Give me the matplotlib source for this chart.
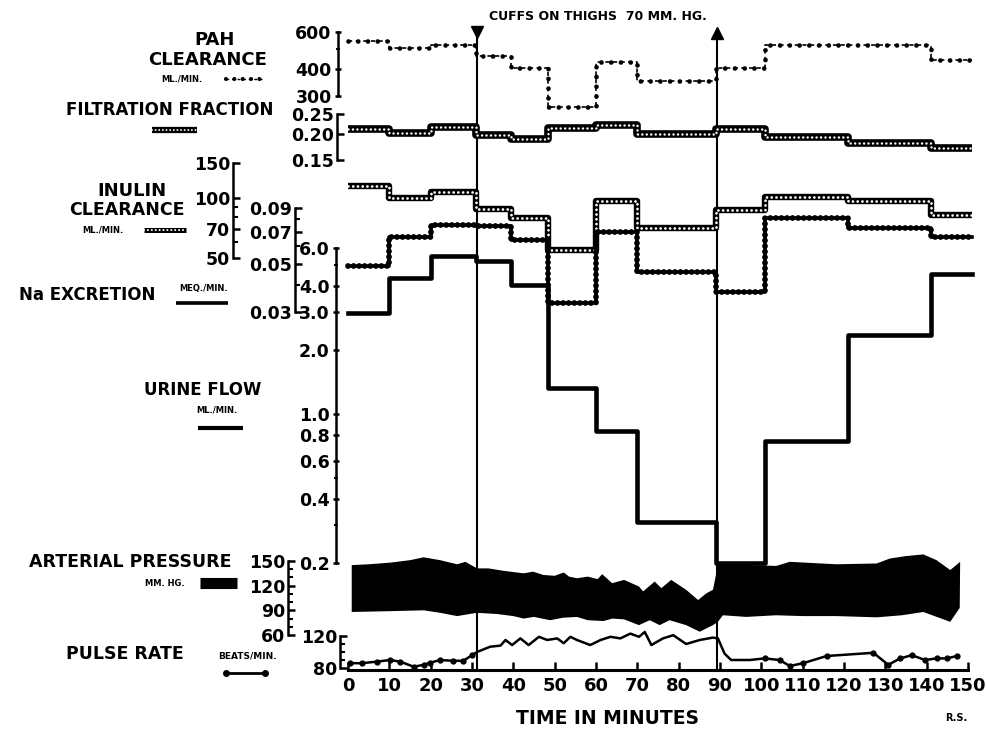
import matplotlib
matplotlib.use('Agg')
import matplotlib.pyplot as plt
from matplotlib.ticker import NullFormatter

plt.rcParams['font.family'] = ['DejaVu Sans']
plt.rcParams['font.weight'] = 'bold'
plt.rcParams['lines.scale_dashes'] = False

# collection periods, minutes
edges = [0, 10, 20, 31, 39.5, 48.5, 60, 70, 89, 101, 121, 141, 151]
pah = [545, 502, 520, 462, 407, 267, 434, 353, 405, 520, 520, 442]
ff = [0.211, 0.203, 0.217, 0.198, 0.190, 0.213, 0.221, 0.201, 0.211, 0.193, 0.181, 0.172]
inulin = [115, 100, 107, 88, 79, 55, 97, 71, 87, 101, 97, 82]
na = [0.049, 0.066, 0.075, 0.0745, 0.064, 0.033, 0.070, 0.046, 0.037, 0.081, 0.073, 0.066]
urine = [2.97, 4.35, 5.5, 5.23, 4.02, 1.32, 0.835, 0.31, 0.20, 0.75, 2.35, 4.53]

# arterial pressure band edges
sys_t = [0.9, 5, 10.2, 15, 18.3, 22.3, 26.4, 28.4, 31.2, 34, 37.7, 42.5, 44.8, 47.3, 50, 52.2,
         53.5, 55.4, 58, 60.4, 61.5, 63.9, 66.8, 70.4, 71.4, 74.2, 75.8, 78.2, 81.8, 84.7, 86.7,
         88.3, 89.5, 94, 98, 103.6, 106.9, 118.2, 127.9, 131.1, 135, 139.2, 142.4, 145.7, 148.1]
sys_p = [145, 146, 148, 151, 154.5, 151, 146, 149, 141, 141, 138, 135, 137, 133, 132, 136,
         131, 129, 131, 128, 134, 123, 127, 119, 113, 125, 117, 127, 115, 102.5, 110.7,
         115, 145, 147, 145, 144, 149, 146, 147, 153, 156, 158, 151, 139, 149]
dia_t = [0.9, 10.2, 18.3, 22.3, 26.4, 31.2, 36.1, 40, 42.5, 45, 48.9, 52, 55.4, 58, 61.8, 64,
         66.8, 70.4, 73, 75.4, 77.8, 81.8, 85.1, 88.3, 89.5, 90.7, 96.3, 103.6, 110, 118.2,
         127.9, 134, 139.2, 145.7, 148]
dia_p = [88, 89, 90, 87, 83, 87, 85.5, 83, 80, 82, 78, 81, 82, 78, 77, 80,
         79, 72, 78, 72, 78, 72, 64, 72, 76, 84, 82, 84, 83, 83,
         81.5, 84, 88, 76, 93]

pulse_t = [0.6, 3.4, 7, 10.2, 12.6, 15.9, 18.3, 19.9, 22.3, 25.5, 27.9, 30, 31.2, 34.4, 36.9,
           38.1, 39.7, 41.7, 43.7, 46.2, 48.2, 50.6, 52.2, 53.8, 55.4, 58.6, 61.1, 63.5, 65.9,
           68.3, 70.4, 71.8, 73.4, 76.2, 78.7, 81.8, 85.1, 88.3, 89.5, 91.1, 92.7, 97.2, 100.8,
           104.4, 106.9, 110.1, 115.8, 127.1, 130.7, 133.6, 136.4, 139.6, 142.4, 144.9, 147.3]
pulse_v = [86, 86, 88, 90, 88, 81.6, 84, 86.6, 90, 89, 89, 96, 100, 106.6, 108,
           115, 108.7, 117, 108.7, 119, 115, 117, 111, 119, 115, 108.7, 115, 119, 117,
           123, 119, 125, 108.7, 117, 121, 110, 115, 118, 117, 98, 90, 90, 92,
           90, 82.5, 86, 95, 99, 84, 92, 96, 90, 92, 92, 95]

cuff_on, cuff_off = 31.2, 89.2
time_ticks = list(range(0, 151, 10))

W, H = 986, 730
X0, X150 = 348, 968

fig = plt.figure(figsize=(W / 100, H / 100), dpi=100)


def scale_axes(y_top, y_bot, x_spine, lo, hi, major, labels, minor=(), log=True, tdir='in'):
    ax = fig.add_axes([X0 / W, 1 - y_bot / H, (X150 - X0) / W, (y_bot - y_top) / H])
    ax.patch.set_visible(False)
    ax.set_xlim(0, 150)
    if log:
        ax.set_yscale('log')
    ax.set_ylim(lo, hi)
    for s in ['top', 'right', 'bottom']:
        ax.spines[s].set_visible(False)
    ax.spines['left'].set_position(('outward', (X0 - x_spine) * 0.72))
    ax.spines['left'].set_linewidth(1.8)
    ax.set_xticks([])
    ax.set_yticks(major, labels=labels)
    ax.set_yticks(list(minor), minor=True)
    ax.yaxis.set_minor_formatter(NullFormatter())
    ax.tick_params(axis='y', which='major', direction=tdir, length=5, width=1.8, labelsize=12.5, pad=2)
    ax.tick_params(axis='y', which='minor', direction=tdir, length=3.5, width=1.5)
    return ax


def steps(ax, vals, **kw):
    ax.step(edges, vals + [vals[-1]], where='post', color='k', clip_on=False, **kw)


# time axis
ax_t = fig.add_axes([X0 / W, 1 - 670 / H, (X150 - X0) / W, 650 / H])
ax_t.patch.set_visible(False)
ax_t.set_xlim(0, 150)
ax_t.set_ylim(0, 1)
for s in ['top', 'right', 'left']:
    ax_t.spines[s].set_visible(False)
ax_t.spines['bottom'].set_linewidth(2.2)
ax_t.set_yticks([])
ax_t.set_xticks(time_ticks)
ax_t.tick_params(axis='x', direction='in', length=6, width=1.8, labelsize=13, pad=5)

# cuff lines
ax_t.axvline(cuff_on, ymin=0, ymax=(670 - 36) / 650, color='k', lw=1.5)
ax_t.plot([cuff_on], [(670 - 32) / 650], marker='v', ms=8, color='k',
          transform=ax_t.get_xaxis_transform(), clip_on=False)
ax_t.axvline(cuff_off, ymin=0, ymax=(670 - 36) / 650, color='k', lw=1.5)
ax_t.plot([cuff_off], [(670 - 33) / 650], marker='^', ms=8, color='k',
          transform=ax_t.get_xaxis_transform(), clip_on=False)

# PAH clearance
ax_pah = scale_axes(32, 96, 338, 300, 600, [600, 400, 300], ['600', '400', '300'], [500], tdir='inout')
steps(ax_pah, pah, lw=1.2, ls=(0, (3, 2.5)))
steps(ax_pah, pah, lw=3.4, ls=(0, (0.01, 7)), dash_capstyle='round')

# filtration fraction
ax_ff = scale_axes(114, 160, 337, 0.15, 0.25, [0.25, 0.20, 0.15], ['0.25', '0.20', '0.15'])
steps(ax_ff, ff, lw=5.5, solid_capstyle='butt')
ax_ff.step(edges, ff + [ff[-1]], where='post', color='w', lw=1.8, ls=(0, (0.01, 3.2)),
           dash_capstyle='round', clip_on=False)

# inulin clearance
ax_in = scale_axes(163, 258, 233, 50, 150, [150, 100, 70, 50], ['150', '100', '70', '50'], [90, 80, 60])
steps(ax_in, inulin, lw=4.6, solid_capstyle='butt')
ax_in.step(edges, inulin + [inulin[-1]], where='post', color='w', lw=2.0, ls=(0, (0.01, 3.4)),
           dash_capstyle='round', clip_on=False)

# sodium excretion
ax_na = scale_axes(208, 312, 295, 0.03, 0.09, [0.09, 0.07, 0.05, 0.03],
                   ['0.09', '0.07', '0.05', '0.03'], [0.08, 0.06, 0.04])
steps(ax_na, na, lw=2.6)
steps(ax_na, na, lw=4.2, ls=(0, (0.01, 4.0)), dash_capstyle='round')

# urine flow
ax_u = scale_axes(248, 563, 336, 0.2, 6.0, [6, 4, 3, 2, 1, 0.8, 0.6, 0.4, 0.2],
                  ['6.0', '4.0', '3.0', '2.0', '1.0', '0.8', '0.6', '0.4', '0.2'],
                  [5, 0.5, 0.3], tdir='inout')
steps(ax_u, urine, lw=3.3)

# arterial pressure
ax_bp = scale_axes(561, 635, 288, 60, 150, [150, 120, 90, 60], ['150', '120', '90', '60'],
                   [140, 130, 110, 100, 80, 70], log=False)
ax_bp.fill(sys_t + dia_t[::-1], sys_p + dia_p[::-1], color='k', lw=0, clip_on=False)

# pulse rate
ax_pr = scale_axes(636, 668, 340, 80, 120, [120, 80], ['120', '80'], [110, 100, 90], log=False)
dots = [(t < cuff_on or t > 99) for t in pulse_t]
ax_pr.plot(pulse_t, pulse_v, color='k', lw=1.8, marker='o', ms=3.5, markevery=dots, clip_on=False)

# labels and keys, in pixel coordinates
ax_l = fig.add_axes([0, 0, 1, 1])
ax_l.set_xlim(0, W)
ax_l.set_ylim(H, 0)
ax_l.axis('off')
ax_l.patch.set_visible(False)


def lab(x, y, s, size, ha='center'):
    ax_l.text(x, y, s, fontsize=size, ha=ha, va='center', fontweight='bold')


lab(598, 16, 'CUFFS ON THIGHS  70 MM. HG.', 9)
lab(215, 40, 'PAH', 13)
lab(208, 60, 'CLEARANCE', 13)
lab(182, 79, 'ML./MIN.', 6)
ax_l.plot([226, 262], [79, 79], color='k', lw=1.0, ls=(0, (2, 2)))
ax_l.plot([226, 262], [79, 79], color='k', lw=3, ls=(0, (0.01, 6)), dash_capstyle='round')
lab(170, 110, 'FILTRATION FRACTION', 12)
ax_l.plot([152, 197], [130, 130], color='k', lw=4.5, solid_capstyle='butt')
ax_l.plot([152, 197], [130, 130], color='w', lw=1.4, ls=(0, (0.01, 2.6)), dash_capstyle='round')
lab(132, 191, 'INULIN', 13)
lab(127, 210, 'CLEARANCE', 12.5)
lab(103, 230, 'ML./MIN.', 6)
ax_l.plot([144, 186], [230, 230], color='k', lw=3.6, solid_capstyle='butt')
ax_l.plot([144, 186], [230, 230], color='w', lw=1.5, ls=(0, (0.01, 2.8)), dash_capstyle='round')
lab(87, 295, 'Na EXCRETION', 12)
lab(204, 289, 'MEQ./MIN.', 6)
ax_l.plot([176, 228], [303, 303], color='k', lw=2.6, solid_capstyle='butt')
lab(203, 390, 'URINE FLOW', 12)
lab(217, 410, 'ML./MIN.', 6)
ax_l.plot([198, 243], [428, 428], color='k', lw=3, solid_capstyle='butt')
lab(130, 562, 'ARTERIAL PRESSURE', 12.5)
lab(165, 583, 'MM. HG.', 6)
ax_l.plot([200, 237], [583, 583], color='k', lw=8, solid_capstyle='butt')
lab(125, 654, 'PULSE RATE', 12.5)
lab(247, 656, 'BEATS/MIN.', 6.5)
ax_l.plot([226, 265], [673, 673], color='k', lw=2, marker='o', ms=4)
lab(607, 718, 'TIME IN MINUTES', 13.5)
lab(956, 718, 'R.S.', 7)

fig.savefig('out.png', dpi=100, facecolor='white')
